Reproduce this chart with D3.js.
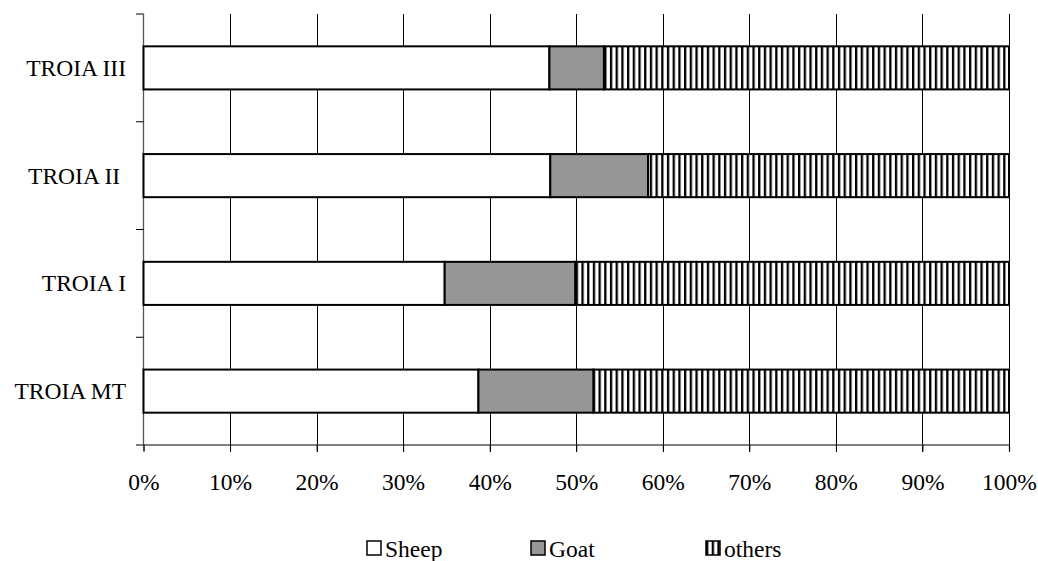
<!DOCTYPE html>
<html>
<head>
<meta charset="utf-8">
<script src="https://cdn.jsdelivr.net/npm/d3@7"></script>
<style>
  html, body { margin: 0; padding: 0; background: #fff; }
  svg { display: block; }
</style>
</head>
<body>
<svg id="chart" width="1038" height="561"></svg>
<script>
// Phases of the site, top to bottom
const categories = ["TROIA III", "TROIA II ", "TROIA I", "TROIA MT"];
// Share of each taxon per phase (percent)
const sheep  = [46.9, 47.0, 34.8, 38.7];
const goat   = [6.3, 11.3, 15.1, 13.3];
const others = [46.8, 41.7, 50.1, 48.0];
const seriesNames = ["Sheep", "Goat", "others"];
const tickValues = [0, 10, 20, 30, 40, 50, 60, 70, 80, 90, 100];

const FONT = "'Liberation Serif', 'Times New Roman', Times, serif";
const FONT_SIZE = "23.5px";

const svg = d3.select("#chart");

// vertical stripe fill for "others"
const defs = svg.append("defs");
const pat = defs.append("pattern")
  .attr("id", "vstripes")
  .attr("patternUnits", "userSpaceOnUse")
  .attr("width", 5.7).attr("height", 10);
pat.append("rect").attr("width", 5.7).attr("height", 10).attr("fill", "#fff");
pat.append("rect").attr("x", 0).attr("width", 2.3).attr("height", 10).attr("fill", "#000");

const fills = ["#ffffff", "#969696", "url(#vstripes)"];

const x = d3.scaleLinear().domain([0, 100]).range([143.5, 1009]);
const y = d3.scaleBand().domain(categories).range([14, 445])
  .paddingInner(0.6).paddingOuter(0.3);

const rows = categories.map((c, i) => ({ cat: c, Sheep: sheep[i], Goat: goat[i], others: others[i] }));
const stacked = d3.stack().keys(seriesNames)(rows);

// vertical gridlines
svg.append("g").selectAll("line")
  .data(tickValues.slice(1))
  .join("line")
  .attr("x1", d => Math.round(x(d)) + 0.5).attr("x2", d => Math.round(x(d)) + 0.5)
  .attr("y1", 14).attr("y2", 452)
  .attr("stroke", "#000").attr("stroke-width", 1);

// x axis
const xAxis = svg.append("g")
  .attr("transform", "translate(0,444.5)")
  .call(d3.axisBottom(x).tickValues(tickValues).tickFormat(d => d + "%").tickSize(7).tickPadding(21));
xAxis.attr("font-family", null).attr("font-size", null);
xAxis.select(".domain").attr("stroke", "#555").attr("stroke-width", 1.3);
xAxis.selectAll(".tick line").attr("stroke", "#000");
xAxis.selectAll("text")
  .attr("dy", null).attr("y", 45.5)
  .style("font-family", FONT).style("font-size", FONT_SIZE).attr("fill", "#000");

// y axis line and category boundary ticks
const step = y.step();
const bounds = d3.range(categories.length + 1).map(i => 14 + i * step);
svg.append("line")
  .attr("x1", 143.5).attr("x2", 143.5).attr("y1", 14).attr("y2", 445)
  .attr("stroke", "#555").attr("stroke-width", 1.3);
svg.append("g").selectAll("line")
  .data(bounds)
  .join("line")
  .attr("x1", 136).attr("x2", 143.5)
  .attr("y1", d => d).attr("y2", d => d)
  .attr("stroke", "#000").attr("stroke-width", 1);

// category labels
svg.append("g").selectAll("text")
  .data(categories)
  .join("text")
  .attr("x", 126)
  .attr("y", d => y(d) + y.bandwidth() / 2 + 8)
  .attr("text-anchor", "end")
  .style("white-space", "pre")
  .style("font-family", FONT).style("font-size", FONT_SIZE)
  .attr("fill", "#000")
  .text(d => d);

// stacked bars
svg.append("g").selectAll("g")
  .data(stacked)
  .join("g")
  .attr("fill", (d, i) => fills[i])
  .selectAll("rect")
  .data(d => d)
  .join("rect")
  .attr("x", d => x(d[0]))
  .attr("y", d => y(d.data.cat))
  .attr("width", d => x(d[1]) - x(d[0]))
  .attr("height", y.bandwidth())
  .attr("stroke", "#000")
  .attr("stroke-width", 2);

// legend
const legendX = [367, 531, 706];
const legend = svg.append("g").selectAll("g")
  .data(seriesNames)
  .join("g")
  .attr("transform", (d, i) => `translate(${legendX[i]},541)`);
legend.append("rect")
  .attr("width", 14).attr("height", 14)
  .attr("fill", (d, i) => fills[i])
  .attr("stroke", "#000").attr("stroke-width", 1.5);
legend.append("text")
  .attr("x", 18).attr("y", 15.5)
  .style("font-family", FONT).style("font-size", FONT_SIZE)
  .attr("fill", "#000")
  .text(d => d);
</script>
</body>
</html>
